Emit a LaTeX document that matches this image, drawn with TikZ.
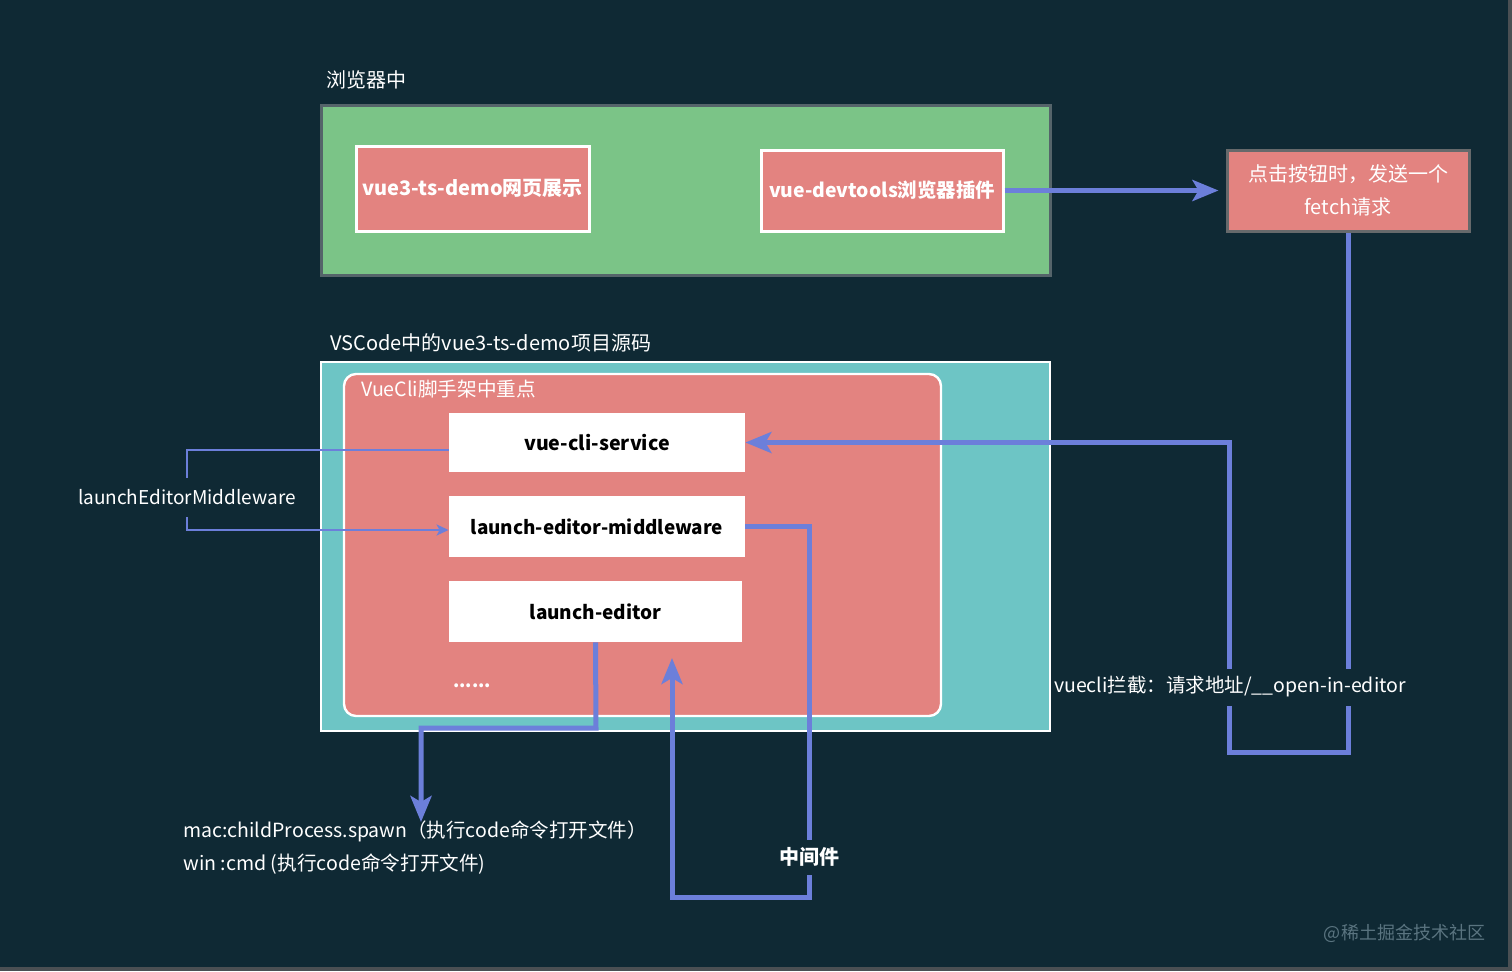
\documentclass[tikz,border=0pt]{standalone}
\usepackage{fontspec}
\setmainfont{Noto Sans CJK SC}
\usetikzlibrary{arrows.meta}
\definecolor{bg}{HTML}{0F2934}
\definecolor{grn}{HTML}{7BC487}
\definecolor{grnedge}{HTML}{55646A}
\definecolor{pnk}{HTML}{E38380}
\definecolor{tl}{HTML}{6DC5C5}
\definecolor{blu}{HTML}{6C7FDA}
\definecolor{rboxedge}{HTML}{66696B}
\definecolor{wm}{HTML}{5A7480}
\definecolor{frame}{HTML}{4A4F53}
\newcommand{\fs}[1]{\fontsize{#1}{12}\selectfont}
\tikzset{
  lbl/.style={text=white, font=\fs{10}, inner sep=0pt},
  pbox/.style={fill=pnk, draw=white, line width=1.5pt, text=white, inner sep=0pt},
  wbox/.style={fill=white, draw=none, text=black, inner sep=0pt},
  bigarrow/.style={draw=blu, line width=2.5pt, -{Stealth[length=13pt,width=10.5pt,inset=3pt]}},
  thinline/.style={draw=blu, line width=1.2pt},
  thinarrow/.style={draw=blu, line width=1.2pt, -{Stealth[length=6pt,width=5.5pt,inset=1.5pt]}},
  gaplbl/.style={fill=bg, text=white, inner xsep=0pt},
}
\begin{document}
\begin{tikzpicture}[x=0.5pt,y=-0.5pt]
\useasboundingbox (0,0) rectangle (1512,971);
\fill[bg] (0,0) rectangle (1512,971);
\fill[frame] (1508,0) rectangle (1512,971);
\fill[frame] (0,967) rectangle (1512,971);

% browser group
\node[lbl, anchor=west] (t1) at (326,80) {浏览器中};
\node[fill=grn, draw=grnedge, line width=1.5pt, minimum width=364.5pt, minimum height=85pt, inner sep=0pt] (green) at (685.5,190) {};
\node[pbox, font=\fs{10}\bfseries, minimum width=116.5pt, minimum height=42.5pt] (demo) at (472.5,188.5) {vue3-ts-demo网页展示};
\node[pbox, font=\fs{9.7}\bfseries, minimum width=121pt, minimum height=40.5pt] (devt) at (882,190.5) {vue-devtools浏览器插件};
\node[fill=pnk, draw=rboxedge, line width=1.5pt, text=white, font=\fontsize{10}{16.5}\selectfont, align=center, minimum width=121pt, minimum height=40.5pt, inner sep=0pt] (fetch) at (1348,190.5) {点击按钮时，发送一个\\fetch请求};

% vscode group
\node[lbl, anchor=west] (t2) at (330,343) {VSCode中的vue3-ts-demo项目源码};
\node[fill=tl, draw=white, line width=1.2pt, minimum width=364.5pt, minimum height=184.5pt, inner sep=0pt] (teal) at (685.5,546.5) {};
\node[fill=pnk, draw=white, line width=1.2pt, rounded corners=6pt, minimum width=298.5pt, minimum height=171pt, inner sep=0pt] (cli) at (642.5,545) {};
\node[lbl, anchor=west, font=\fs{9.8}] (t3) at (361,389) {VueCli脚手架中重点};
\node[wbox, font=\fs{9.8}\bfseries, minimum width=148pt, minimum height=29.5pt] (svc) at (597,442.5) {vue-cli-service};
\node[wbox, font=\fs{9.45}\bfseries, minimum width=148pt, minimum height=30.5pt] (mw) at (597,526.5) {launch-editor-middleware};
\node[wbox, font=\fs{9.5}\bfseries, minimum width=146.5pt, minimum height=30.5pt] (ed) at (595.5,611.5) {launch-editor};
\node[lbl, font=\fs{9}\bfseries] (dots) at (472,686) {......};

% coordinates
\coordinate (lemc) at (187,497);
\coordinate (r1) at (1348,752);
\coordinate (r2) at (1229,752);
\coordinate (r3) at (1229,442.5);
\coordinate (e1) at (596,728);
\coordinate (e2) at (421,728);
\coordinate (e3) at (421,822);
\coordinate (m1) at (809,526.5);
\coordinate (m2) at (809,897);
\coordinate (m3) at (672,897);
\coordinate (m4) at (672,658);

% connectors
\draw[bigarrow, shorten >=3.5pt] (devt.east) -- (fetch.west);
\draw[bigarrow] (fetch.south) -- (r1) -- (r2) -- (r3) -- (svc.east);
\draw[thinline] ([yshift=-3.75pt]svc.west) -| (lemc);
\draw[thinarrow] (lemc) |- ([yshift=-1.75pt]mw.west);
\draw[bigarrow] (ed.south) -- (e1) -- (e2) -- (e3);
\draw[bigarrow] (mw.east) -- (m1) -- (m2) -- (m3) -- (m4);

% labels over connectors
\node[gaplbl, font=\fs{9.5}, minimum height=19.5pt] (lem) at (lemc) {launchEditorMiddleware};
\node[gaplbl, font=\fs{9.75}, minimum height=18.5pt] (vlab) at (1230,687) {vuecli拦截：请求地址/\_\_open-in-editor};
\node[gaplbl, font=\fs{10}\bfseries, minimum height=17.5pt] (zjj) at (809,857) {中间件};

% bottom texts
\node[lbl, anchor=west, font=\fs{9.75}] (mac) at (183,831) {mac:childProcess.spawn（执行code命令打开文件）};
\node[lbl, anchor=west, font=\fs{9.8}] (win) at (183,864) {win :cmd (执行code命令打开文件)};

% watermark
\node[text=wm, font=\fs{9}, inner sep=0pt] (wmk) at (1404.5,933) {@稀土掘金技术社区};
\end{tikzpicture}
\end{document}
